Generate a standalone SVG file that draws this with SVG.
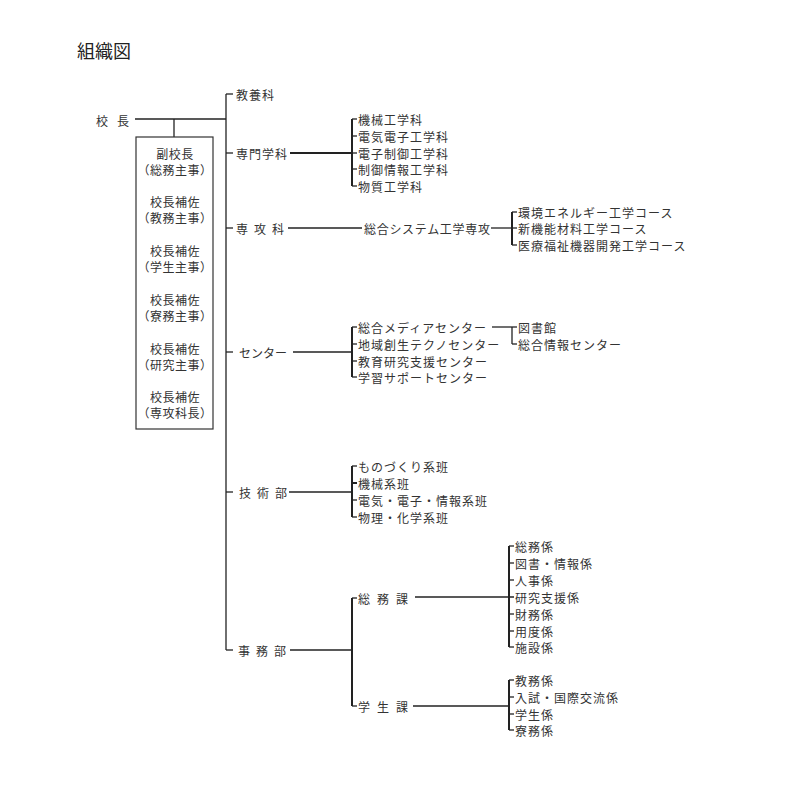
<svg xmlns="http://www.w3.org/2000/svg" width="793" height="786" viewBox="0 0 793 786">
<style>
text{font-family:"Noto Sans CJK JP","Noto Sans CJK SC",sans-serif;font-size:12px;fill:#333;letter-spacing:1px;dominant-baseline:central}
.t{font-size:18px;fill:#222;letter-spacing:0}
.c{text-anchor:middle;letter-spacing:0.5px}
line{stroke:#222;stroke-width:1.3;fill:none}
.b{stroke-width:2}
.box{fill:#fff;stroke:#333;stroke-width:1.2}
.bg{fill:#fff;stroke:none}
</style>
<rect class="bg" x="0" y="0" width="793" height="786"/>
<text class="t" x="77" y="50">組織図</text>
<g id="connectors">
<line x1="135" y1="119" x2="226" y2="119"/>
<line x1="174" y1="119" x2="174" y2="137"/>
<line x1="226" y1="94" x2="226" y2="650"/>
<line x1="226" y1="94" x2="233" y2="94"/>
<line x1="226" y1="153" x2="233" y2="153"/>
<line x1="226" y1="228" x2="233" y2="228"/>
<line x1="226" y1="352" x2="233" y2="352"/>
<line x1="226" y1="492" x2="233" y2="492"/>
<line x1="226" y1="650" x2="233" y2="650"/>
<line class="b" x1="290" y1="153" x2="352" y2="153"/>
<line class="b" x1="352" y1="119" x2="352" y2="186"/>
<line x1="352" y1="119" x2="357" y2="119"/>
<line x1="352" y1="136" x2="357" y2="136"/>
<line x1="352" y1="153" x2="357" y2="153"/>
<line x1="352" y1="169" x2="357" y2="169"/>
<line x1="352" y1="186" x2="357" y2="186"/>
<line x1="288" y1="228" x2="362" y2="228"/>
<line x1="491" y1="228" x2="512" y2="228"/>
<line class="b" x1="512" y1="212" x2="512" y2="245"/>
<line x1="512" y1="212" x2="517" y2="212"/>
<line x1="512" y1="228" x2="517" y2="228"/>
<line x1="512" y1="245" x2="517" y2="245"/>
<line x1="293" y1="352" x2="352" y2="352"/>
<line class="b" x1="352" y1="327" x2="352" y2="377"/>
<line x1="352" y1="327" x2="357" y2="327"/>
<line x1="352" y1="344" x2="357" y2="344"/>
<line x1="352" y1="361" x2="357" y2="361"/>
<line x1="352" y1="377" x2="357" y2="377"/>
<line x1="492" y1="327" x2="512" y2="327"/>
<line x1="512" y1="327" x2="512" y2="344"/>
<line x1="512" y1="327" x2="517" y2="327"/>
<line x1="512" y1="344" x2="517" y2="344"/>
<line x1="289" y1="492" x2="352" y2="492"/>
<line class="b" x1="352" y1="466" x2="352" y2="517"/>
<line x1="352" y1="466" x2="357" y2="466"/>
<line class="b" x1="352" y1="483" x2="357" y2="483"/>
<line x1="352" y1="500" x2="357" y2="500"/>
<line x1="352" y1="517" x2="357" y2="517"/>
<line x1="290" y1="650" x2="352" y2="650"/>
<line class="b" x1="352" y1="598" x2="352" y2="706"/>
<line x1="352" y1="598" x2="357" y2="598"/>
<line x1="352" y1="706" x2="357" y2="706"/>
<line x1="415" y1="597" x2="514" y2="597"/>
<line class="b" x1="509" y1="546" x2="509" y2="647"/>
<line x1="509" y1="546" x2="514" y2="546"/>
<line x1="509" y1="563" x2="514" y2="563"/>
<line x1="509" y1="580" x2="514" y2="580"/>
<line x1="509" y1="614" x2="514" y2="614"/>
<line x1="509" y1="631" x2="514" y2="631"/>
<line x1="509" y1="647" x2="514" y2="647"/>
<line x1="413" y1="706" x2="509" y2="706"/>
<line class="b" x1="509" y1="680" x2="509" y2="730"/>
<line x1="509" y1="680" x2="514" y2="680"/>
<line x1="509" y1="697" x2="514" y2="697"/>
<line x1="509" y1="714" x2="514" y2="714"/>
<line x1="509" y1="730" x2="514" y2="730"/>
</g>
<g id="kocho"><text x="96" y="120" style="letter-spacing:9px">校長</text></g>
<g id="staff">
<rect class="box" x="136" y="137" width="77" height="292"/>
<text class="c" x="175" y="153">副校長</text>
<text class="c" x="175" y="169">（総務主事）</text>
<text class="c" x="175" y="201">校長補佐</text>
<text class="c" x="175" y="217">（教務主事）</text>
<text class="c" x="175" y="250">校長補佐</text>
<text class="c" x="175" y="266">（学生主事）</text>
<text class="c" x="175" y="299">校長補佐</text>
<text class="c" x="175" y="315">（寮務主事）</text>
<text class="c" x="175" y="348">校長補佐</text>
<text class="c" x="175" y="364">（研究主事）</text>
<text class="c" x="175" y="396">校長補佐</text>
<text class="c" x="175" y="412">（専攻科長）</text>
</g>
<g id="kyoyoka"><text x="236" y="94">教養科</text></g>
<g id="senmon">
<text x="236" y="153">専門学科</text>
<text x="358" y="119">機械工学科</text>
<text x="358" y="136">電気電子工学科</text>
<text x="358" y="153">電子制御工学科</text>
<text x="358" y="169">制御情報工学科</text>
<text x="358" y="186">物質工学科</text>
</g>
<g id="senkoka">
<text x="236" y="228" style="letter-spacing:6px">専攻科</text>
<text x="364" y="228" style="letter-spacing:0.7px">総合システム工学専攻</text>
<text x="518" y="212">環境エネルギー工学コース</text>
<text x="518" y="228">新機能材料工学コース</text>
<text x="518" y="245">医療福祉機器開発工学コース</text>
</g>
<g id="center">
<text x="239" y="352" style="letter-spacing:0">センター</text>
<text x="358" y="327">総合メディアセンター</text>
<text x="358" y="344">地域創生テクノセンター</text>
<text x="358" y="361">教育研究支援センター</text>
<text x="358" y="377">学習サポートセンター</text>
<text x="518" y="327">図書館</text>
<text x="518" y="344">総合情報センター</text>
</g>
<g id="gijutsu">
<text x="239" y="492" style="letter-spacing:6px">技術部</text>
<text x="358" y="466">ものづくり系班</text>
<text x="358" y="483">機械系班</text>
<text x="358" y="500">電気・電子・情報系班</text>
<text x="358" y="517">物理・化学系班</text>
</g>
<g id="jimu">
<text x="238" y="650" style="letter-spacing:6px">事務部</text>
<text x="358" y="598" style="letter-spacing:7px">総務課</text>
<text x="515" y="546">総務係</text>
<text x="515" y="563">図書・情報係</text>
<text x="515" y="580">人事係</text>
<text x="515" y="597">研究支援係</text>
<text x="515" y="614">財務係</text>
<text x="515" y="631">用度係</text>
<text x="515" y="647">施設係</text>
<text x="358" y="706" style="letter-spacing:7px">学生課</text>
<text x="515" y="680">教務係</text>
<text x="515" y="697">入試・国際交流係</text>
<text x="515" y="714">学生係</text>
<text x="515" y="730">寮務係</text>
</g>
</svg>
